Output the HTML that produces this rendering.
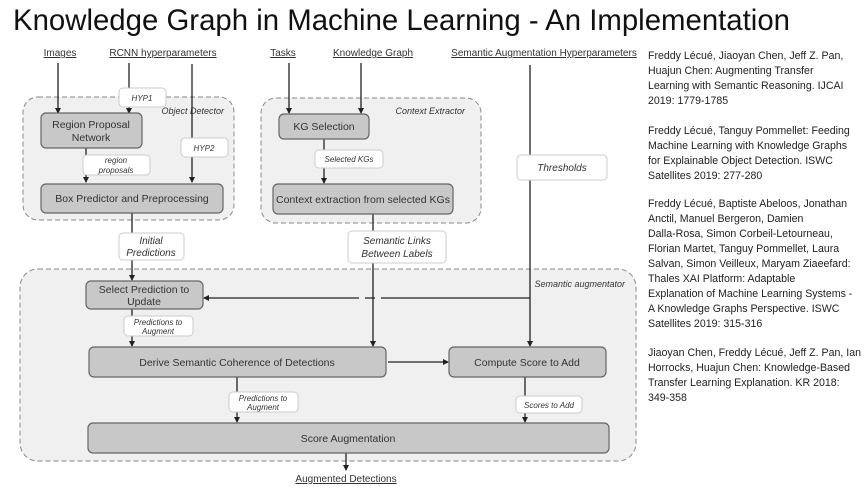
<!DOCTYPE html>
<html><head><meta charset="utf-8"><style>
html,body{margin:0;padding:0;background:#fff;width:864px;height:487px;overflow:hidden}
svg{display:block}
.t{font-family:"Liberation Sans",sans-serif}
</style></head><body>
<svg width="864" height="487" viewBox="0 0 864 487" xmlns="http://www.w3.org/2000/svg" font-family="Liberation Sans, sans-serif">
<defs>
<marker id="a" markerWidth="6" markerHeight="6" refX="5" refY="3" orient="auto" markerUnits="userSpaceOnUse"><path d="M0,0 L6,3 L0,6 z" fill="#222"/></marker>
</defs>
<text x="13" y="30" font-size="30" fill="#111" textLength="777" lengthAdjust="spacingAndGlyphs">Knowledge Graph in Machine Learning - An Implementation</text>

<!-- containers -->
<rect x="23" y="97" width="211" height="123" rx="15" fill="#f0f0f0" stroke="#888" stroke-dasharray="5,3"/>
<rect x="261" y="98" width="220" height="125" rx="15" fill="#f0f0f0" stroke="#888" stroke-dasharray="5,3"/>
<rect x="20" y="269" width="616" height="192" rx="18" fill="#f0f0f0" stroke="#888" stroke-dasharray="5,3"/>

<g font-size="9" font-style="italic" fill="#333" text-anchor="end">
<text x="224" y="114">Object Detector</text>
<text x="465" y="114">Context Extractor</text>
<text x="625" y="287">Semantic augmentator</text>
</g>

<!-- input labels -->
<g font-size="10" fill="#333" text-anchor="middle" text-decoration="underline">
<text x="60" y="56">Images</text>
<text x="163" y="56">RCNN hyperparameters</text>
<text x="283" y="56">Tasks</text>
<text x="373" y="56">Knowledge Graph</text>
<text x="544" y="56">Semantic Augmentation Hyperparameters</text>
<text x="346" y="482">Augmented Detections</text>
</g>

<!-- lines -->
<g stroke="#222" stroke-width="1.3" fill="none">
<line x1="58" y1="63" x2="58" y2="113" marker-end="url(#a)"/>
<line x1="129" y1="63" x2="129" y2="113" marker-end="url(#a)"/>
<line x1="192" y1="64" x2="192" y2="182" marker-end="url(#a)"/>
<line x1="86" y1="148" x2="86" y2="182" marker-end="url(#a)"/>
<line x1="289" y1="63" x2="289" y2="113" marker-end="url(#a)"/>
<line x1="361" y1="63" x2="361" y2="113" marker-end="url(#a)"/>
<line x1="324" y1="139" x2="324" y2="183" marker-end="url(#a)"/>
<line x1="132" y1="213" x2="132" y2="280" marker-end="url(#a)"/>
<line x1="373" y1="214" x2="373" y2="346" marker-end="url(#a)"/>
<line x1="530" y1="65" x2="530" y2="346" marker-end="url(#a)"/>
<line x1="530" y1="298" x2="391" y2="298"/>
<line x1="391" y1="298" x2="356" y2="298" stroke-dasharray="10,6"/>
<line x1="356" y1="298" x2="204" y2="298" marker-end="url(#a)"/>
<line x1="132" y1="309" x2="132" y2="346" marker-end="url(#a)"/>
<line x1="388" y1="362" x2="448" y2="362" marker-end="url(#a)"/>
<line x1="237" y1="377" x2="237" y2="422" marker-end="url(#a)"/>
<line x1="525" y1="377" x2="525" y2="422" marker-end="url(#a)"/>
<line x1="346" y1="453" x2="346" y2="470" marker-end="url(#a)"/>
</g>

<!-- process boxes -->
<g fill="#c8c8c8" stroke="#666" stroke-width="1.2">
<rect x="41" y="113" width="101" height="35" rx="5"/>
<rect x="41" y="184" width="182" height="29" rx="5"/>
<rect x="279" y="114" width="90" height="25" rx="5"/>
<rect x="273" y="184" width="180" height="30" rx="5"/>
<rect x="86" y="281" width="117" height="28" rx="5"/>
<rect x="89" y="347" width="297" height="30" rx="5"/>
<rect x="449" y="347" width="157" height="30" rx="5"/>
<rect x="88" y="423" width="521" height="30" rx="5"/>
</g>
<g font-size="10.5" fill="#333" text-anchor="middle">
<text x="91" y="128">Region Proposal</text>
<text x="91" y="141">Network</text>
<text x="132" y="202">Box Predictor and Preprocessing</text>
<text x="324" y="130">KG Selection</text>
<text x="363" y="203">Context extraction from selected KGs</text>
<text x="144" y="293">Select Prediction to</text>
<text x="144" y="305">Update</text>
<text x="237" y="366">Derive Semantic Coherence of Detections</text>
<text x="527" y="366">Compute Score to Add</text>
<text x="348" y="442">Score Augmentation</text>
</g>

<!-- label boxes -->
<g fill="#fff" stroke="#ccc" stroke-width="1">
<rect x="119" y="88" width="47" height="19" rx="4"/>
<rect x="83" y="155" width="67" height="20" rx="4"/>
<rect x="181" y="138" width="47" height="19" rx="4"/>
<rect x="315" y="150" width="68" height="18" rx="4"/>
<rect x="119" y="233" width="65" height="27" rx="4"/>
<rect x="348" y="231" width="98" height="32" rx="4"/>
<rect x="517" y="155" width="90" height="25" rx="4"/>
<rect x="124" y="316" width="69" height="20" rx="4"/>
<rect x="229" y="392" width="69" height="20" rx="4"/>
<rect x="516" y="396" width="66" height="17" rx="4"/>
</g>
<g font-size="8" font-style="italic" fill="#333" text-anchor="middle">
<text x="142" y="101">HYP1</text>
<text x="204" y="151">HYP2</text>
<text x="116" y="163">region</text>
<text x="116" y="173">proposals</text>
<text x="349" y="162">Selected KGs</text>
<text x="158" y="325">Predictions to</text>
<text x="158" y="334">Augment</text>
<text x="263" y="401">Predictions to</text>
<text x="263" y="410">Augment</text>
<text x="549" y="408">Scores to Add</text>
</g>
<g font-size="10" font-style="italic" fill="#333" text-anchor="middle">
<text x="151" y="244">Initial</text>
<text x="151" y="256">Predictions</text>
<text x="397" y="244">Semantic Links</text>
<text x="397" y="257">Between Labels</text>
<text x="562" y="171">Thresholds</text>
</g>

<!-- references -->
<g font-size="10.6" fill="#222">
<text x="648" y="59">Freddy Lécué, Jiaoyan Chen, Jeff Z. Pan,</text>
<text x="648" y="74">Huajun Chen: Augmenting Transfer</text>
<text x="648" y="89">Learning with Semantic Reasoning. IJCAI</text>
<text x="648" y="104">2019: 1779-1785</text>
<text x="648" y="134">Freddy Lécué, Tanguy Pommellet: Feeding</text>
<text x="648" y="149">Machine Learning with Knowledge Graphs</text>
<text x="648" y="164">for Explainable Object Detection. ISWC</text>
<text x="648" y="179">Satellites 2019: 277-280</text>
<text x="648" y="207">Freddy Lécué, Baptiste Abeloos, Jonathan</text>
<text x="648" y="222">Anctil, Manuel Bergeron, Damien</text>
<text x="648" y="237">Dalla-Rosa, Simon Corbeil-Letourneau,</text>
<text x="648" y="252">Florian Martet, Tanguy Pommellet, Laura</text>
<text x="648" y="267">Salvan, Simon Veilleux, Maryam Ziaeefard:</text>
<text x="648" y="282">Thales XAI Platform: Adaptable</text>
<text x="648" y="297">Explanation of Machine Learning Systems -</text>
<text x="648" y="312">A Knowledge Graphs Perspective. ISWC</text>
<text x="648" y="327">Satellites 2019: 315-316</text>
<text x="648" y="356">Jiaoyan Chen, Freddy Lécué, Jeff Z. Pan, Ian</text>
<text x="648" y="371">Horrocks, Huajun Chen: Knowledge-Based</text>
<text x="648" y="386">Transfer Learning Explanation. KR 2018:</text>
<text x="648" y="401">349-358</text>
</g>
</svg>
</body></html>
